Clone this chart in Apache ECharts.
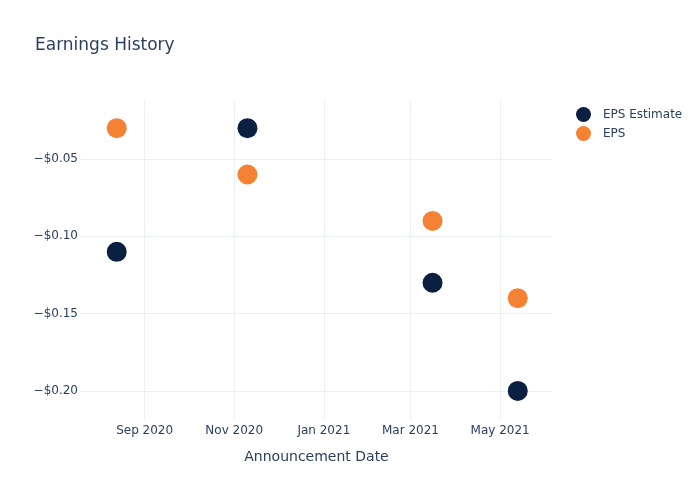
<!DOCTYPE html>
<html>
<head>
<meta charset="utf-8">
<script src="https://cdn.jsdelivr.net/npm/echarts@6/dist/echarts.min.js"></script>
<style>html,body{margin:0;padding:0;background:#fff}#c{width:700px;height:500px}</style>
</head>
<body>
<div id="c"></div>
<script>
const dates = ['2020-08-13', '2020-11-10', '2021-03-16', '2021-05-13'];
const epsEstimate = [-0.11, -0.03, -0.13, -0.20];
const eps = [-0.03, -0.06, -0.09, -0.14];
const xTicks = ['2020-09-01', '2020-11-01', '2021-01-01', '2021-03-01', '2021-05-01'];
const yTicks = [-0.20, -0.15, -0.10, -0.05];
const xRange = ['2020-07-19', '2021-06-06'];
const yRange = [-0.2188, -0.0118];

const ts = s => new Date(s + 'T00:00:00Z').getTime();
const months = ['Jan','Feb','Mar','Apr','May','Jun','Jul','Aug','Sep','Oct','Nov','Dec'];
const font = 'DejaVu Sans, Verdana, sans-serif';
const txt = '#2a3f5f';
const gridC = '#ebf0f8';

const chart = echarts.init(document.getElementById('c'), null, {renderer: 'canvas'});
chart.setOption({
  animation: false,
  backgroundColor: '#fff',
  title: {
    text: 'Earnings History', left: 30, top: 32,
    textStyle: {fontFamily: font, fontSize: 17, fontWeight: 'normal', color: txt}
  },
  legend: {
    left: 571, top: 102, orient: 'vertical', icon: 'circle',
    itemWidth: 15, itemHeight: 15, itemGap: 4,
    textStyle: {fontFamily: font, fontSize: 12, color: txt, padding: [0, 0, 0, 7]},
    data: ['EPS Estimate', 'EPS']
  },
  grid: {left: 80, right: 147, top: 100, bottom: 80, containLabel: false},
  xAxis: {
    type: 'value', min: ts(xRange[0]), max: ts(xRange[1]),
    name: 'Announcement Date', nameLocation: 'middle', nameGap: 30,
    nameTextStyle: {fontFamily: font, fontSize: 14, color: txt},
    axisLine: {show: false}, axisTick: {show: false, customValues: xTicks.map(ts)},
    axisLabel: {
      customValues: xTicks.map(ts), margin: 5,
      fontFamily: font, fontSize: 12, color: txt,
      formatter: v => { const d = new Date(v); return months[d.getUTCMonth()] + ' ' + d.getUTCFullYear(); }
    },
    splitLine: {show: true, lineStyle: {color: gridC, width: 1}}
  },
  yAxis: {
    type: 'value', min: yRange[0], max: yRange[1],
    axisLine: {show: false}, axisTick: {show: false, customValues: yTicks},
    axisLabel: {
      customValues: yTicks, margin: 2,
      fontFamily: font, fontSize: 12, color: txt,
      formatter: v => '\u2212$' + Math.abs(v).toFixed(2)
    },
    splitLine: {show: true, lineStyle: {color: gridC, width: 1}}
  },
  series: [
    {
      name: 'EPS Estimate', type: 'scatter', symbolSize: 20,
      itemStyle: {color: '#0b1f41', opacity: 1},
      data: dates.map((d, i) => [ts(d), epsEstimate[i]])
    },
    {
      name: 'EPS', type: 'scatter', symbolSize: 20,
      itemStyle: {color: '#f58134', opacity: 1},
      data: dates.map((d, i) => [ts(d), eps[i]])
    }
  ]
});
</script>
</body>
</html>
